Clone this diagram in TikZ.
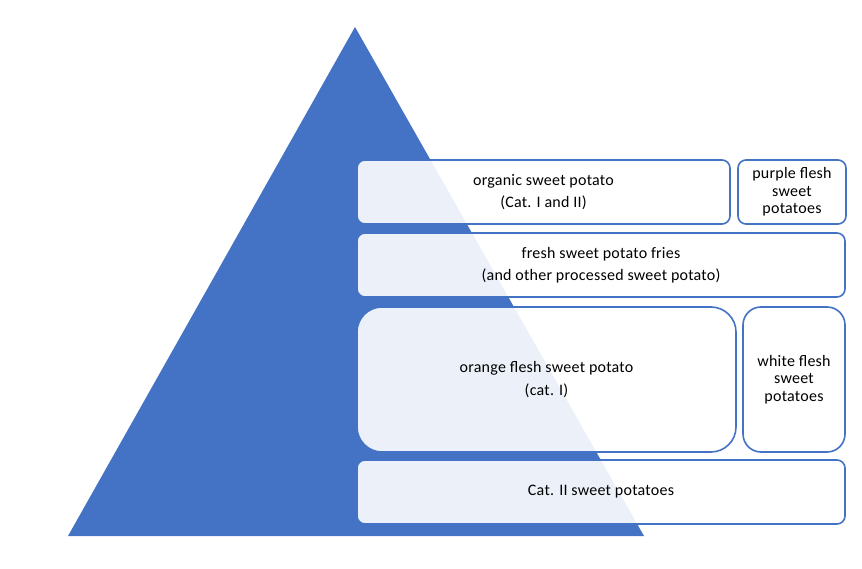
\documentclass[tikz,border=0pt]{standalone}
\usepackage{fontspec}
\setmainfont[LetterSpace=1.5]{Carlito}
\definecolor{pyr}{HTML}{4472C4}
\begin{document}
\begin{tikzpicture}[x=1pt,y=-1pt,
  tier/.style={draw=pyr, line width=1.6pt, fill=white, fill opacity=0.9, text opacity=1,
    rounded corners=8pt, inner sep=0pt, align=center, font=\fontsize{16}{22.5}\selectfont},
  side/.style={tier, font=\fontsize{16}{17.5}\selectfont}]
\useasboundingbox (0,0) rectangle (862,569);
\fill[pyr] (355,27) coordinate (apex) -- (644,536) coordinate (br) -- (68,536) coordinate (bl) -- cycle;
\node[tier, minimum width=373pt, minimum height=64pt] (organic) at (543.5,192) {organic sweet potato\\(Cat. I and II)};
\node[side, minimum width=108pt, minimum height=64pt] (purple) at (792,192) {purple flesh\\sweet\\potatoes};
\node[tier, minimum width=488pt, minimum height=64pt] (fries) at (601,265) {fresh sweet potato fries\\(and other processed sweet potato)};
\node[tier, rounded corners=25pt, minimum width=379pt, minimum height=145pt] (orange) at (546.5,379.5) {orange flesh sweet potato\\(cat. I)};
\node[side, rounded corners=18pt, minimum width=102pt, minimum height=145pt] (white) at (794,379.5) {white flesh\\sweet\\potatoes};
\node[tier, minimum width=488pt, minimum height=64pt] (cat2) at (601,492) {Cat. II sweet potatoes};
\end{tikzpicture}
\end{document}
